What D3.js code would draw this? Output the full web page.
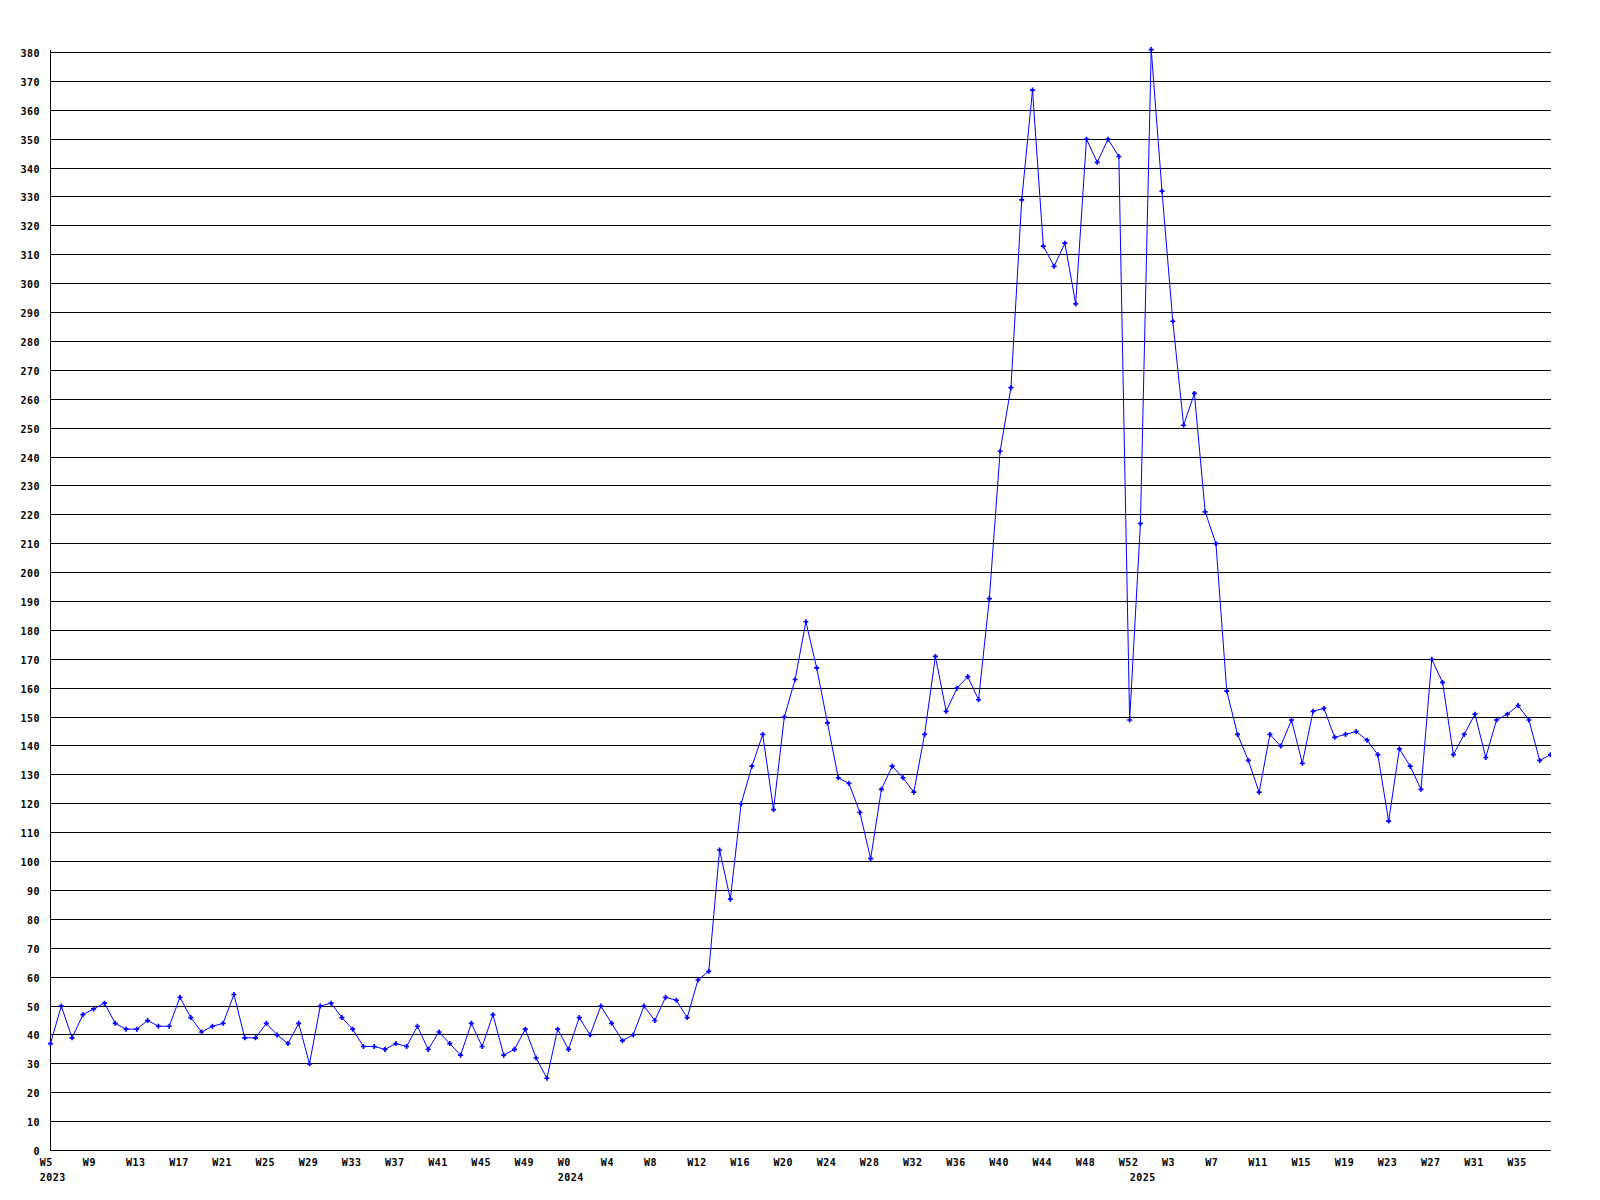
<!DOCTYPE html>
<html lang="en">
<head>
    <meta charset="utf-8" />
    <title>Weekly values 2023 - 2025</title>
    <style type="text/css">
        html, body {
            margin: 0;
            padding: 0;
            background: #ffffff;
        }
        .grid {
            stroke: #000000;
            stroke-width: 1px;
            shape-rendering: crispEdges;
        }
        .line {
            fill: none;
            stroke: #0000ff;
            stroke-width: 1px;
        }
        .lbl {
            font-family: "DejaVu Sans Mono", monospace;
            font-weight: bold;
            font-size: 10px;
            letter-spacing: 0.5px;
            fill: #000000;
        }
    </style>
    <script type="text/javascript" src="https://cdn.jsdelivr.net/npm/d3@7/dist/d3.min.js"></script>
</head>
<body>
    <div id="chart"></div>

    <script type="text/javascript">
        // weekly values, one array per year
        const years = ['2023', '2024', '2025'];
        const firstWeek = [5, 0, 0];
        const values2023 = [37, 50, 39, 47, 49, 51, 44, 42, 42, 45, 43, 43, 53, 46, 41, 43, 44, 54, 39, 39,
            44, 40, 37, 44, 30, 50, 51, 46, 42, 36, 36, 35, 37, 36, 43, 35, 41, 37, 33, 44,
            36, 47, 33, 35, 42, 32, 25, 42];
        const values2024 = [35, 46, 40, 50, 44, 38, 40, 50, 45, 53, 52, 46, 59, 62, 104, 87, 120, 133, 144, 118,
            150, 163, 183, 167, 148, 129, 127, 117, 101, 125, 133, 129, 124, 144, 171, 152, 160, 164, 156, 191,
            242, 264, 329, 367, 313, 306, 314, 293, 350, 342, 350, 344, 149];
        const values2025 = [217, 381, 332, 287, 251, 262, 221, 210, 159, 144, 135, 124, 144, 140, 149, 134, 152, 153, 143, 144,
            145, 142, 137, 114, 139, 133, 125, 170, 162, 137, 144, 151, 136, 149, 151, 154, 149, 135, 137];
        const weekTicks = ['W5', 'W9', 'W13', 'W17', 'W21', 'W25', 'W29', 'W33', 'W37', 'W41', 'W45', 'W49',
            'W0', 'W4', 'W8', 'W12', 'W16', 'W20', 'W24', 'W28', 'W32', 'W36', 'W40', 'W44', 'W48', 'W52',
            'W3', 'W7', 'W11', 'W15', 'W19', 'W23', 'W27', 'W31', 'W35'];
        const yTicks = d3.range(0, 390, 10);

        // one row per week
        let data = [];
        [values2023, values2024, values2025].forEach((vals, k) => {
            vals.forEach((v, j) => {
                data.push({year: years[k], week: 'W' + (firstWeek[k] + j), value: v, first: j === 0});
            });
        });
        data.forEach((d, i) => { d.i = i; });

        const W = 1600, H = 1200,
            plotLeft = 50.5, plotRight = 1550.5, plotTop = 52.5, plotBottom = 1150.5;

        let x = d3.scaleLinear().domain([0, data.length - 1]).range([plotLeft, plotRight]);
        let y = d3.scaleLinear().domain([0, 380]).range([plotBottom, plotTop]);
        const step = x(1) - x(0);

        let svg = d3.select('#chart').append('svg')
            .attr('width', W)
            .attr('height', H)
            .style('display', 'block');

        svg.append('rect')
            .attr('width', W)
            .attr('height', H)
            .attr('fill', '#ffffff');

        svg.append('clipPath')
            .attr('id', 'plot-clip')
            .append('rect')
                .attr('x', 0)
                .attr('y', 0)
                .attr('width', 1551)
                .attr('height', 1151);

        // horizontal grid + y labels
        const gy = (v) => Math.round(y(v) - 0.5) + 0.5;
        svg.selectAll('.grid-h')
            .data(yTicks)
            .enter().append('line')
            .attr('class', 'grid grid-h')
            .attr('x1', plotLeft)
            .attr('x2', 1551)
            .attr('y1', gy)
            .attr('y2', gy);

        svg.append('line')
            .attr('class', 'grid')
            .attr('x1', plotLeft)
            .attr('x2', plotLeft)
            .attr('y1', 50)
            .attr('y2', plotBottom);

        svg.selectAll('.ylbl')
            .data(yTicks)
            .enter().append('text')
            .attr('class', 'lbl ylbl')
            .attr('x', 40)
            .attr('y', (d) => gy(d) + 4)
            .style('text-anchor', 'end')
            .text((d) => d);

        // x labels: every 4th week, year under the first week of each year
        let tickRows = data.filter((d) => d.i % 4 === 0);
        svg.selectAll('.xlbl')
            .data(tickRows)
            .enter().append('text')
            .attr('class', 'lbl xlbl')
            .attr('x', (d) => x(d.i) - step)
            .attr('y', 1166)
            .text((d, i) => weekTicks[i]);

        svg.selectAll('.yearlbl')
            .data(data.filter((d) => d.first))
            .enter().append('text')
            .attr('class', 'lbl yearlbl')
            .attr('x', (d) => x(d.i) - step)
            .attr('y', 1181)
            .text((d) => d.year);

        let valueline = d3.line()
            .x((d) => x(d.i))
            .y((d) => y(d.value));

        let plot = svg.append('g').attr('clip-path', 'url(#plot-clip)');

        plot.append('path')
            .datum(data)
            .attr('class', 'line')
            .attr('d', valueline);

        plot.selectAll('.dot')
            .data(data)
            .enter().append('path')
            .attr('class', 'dot')
            .attr('d', d3.symbol().type(d3.symbolCross).size(14))
            .attr('transform', (d) => 'translate(' + x(d.i) + ',' + y(d.value) + ')')
            .attr('fill', '#0000ff');
    </script>
</body>
</html>
